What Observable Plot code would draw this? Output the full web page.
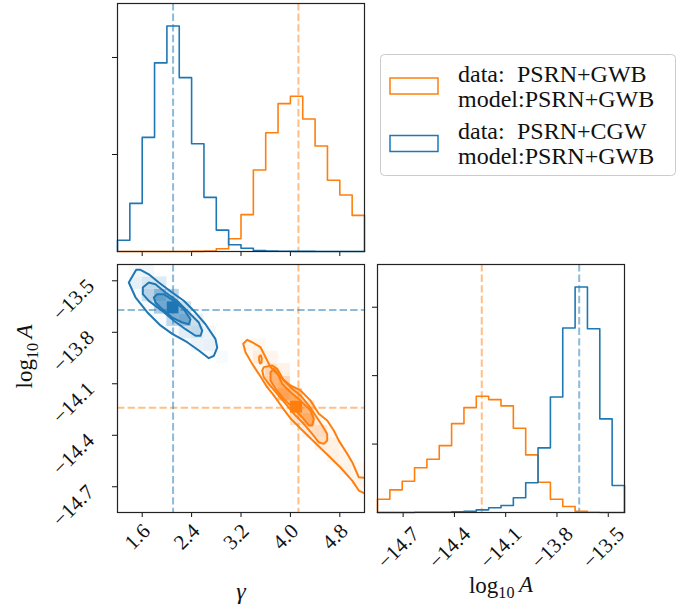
<!DOCTYPE html>
<html><head><meta charset="utf-8">
<script src="https://cdn.jsdelivr.net/npm/d3@7"></script>
<script src="https://cdn.jsdelivr.net/npm/@observablehq/plot@0.6"></script>
<style>
body{margin:0;background:#fff;}
#fig{position:relative;width:699px;height:614px;}
#fig svg{position:absolute;left:0;top:0;}
</style></head><body><div id="fig"></div>
<script>
// ---------------- data ----------------
const seriesNames = ["data: PSRN+GWB / model:PSRN+GWB", "data: PSRN+CGW / model:PSRN+GWB"];
const seriesColors = ["#ff7f0e", "#1f77b4"];
const legendData = ["PSRN+GWB", "PSRN+CGW"];
const legendModel = ["PSRN+GWB", "PSRN+GWB"];

const gammaRange = [1.2, 5.2];
const logARange = [-14.85, -13.405];
const nBins = 20;

const gammaTicks = [1.6, 2.4, 3.2, 4.0, 4.8];
const gammaTickLabels = ["1.6", "2.4", "3.2", "4.0", "4.8"];
const logATicks = [-14.7, -14.4, -14.1, -13.8, -13.5];
const logATickLabels = ["\u221214.7", "\u221214.4", "\u221214.1", "\u221213.8", "\u221213.5"];
const gammaDensityTicks = [0.5, 1.0];
const logADensityTicks = [1, 2, 3];

const truthGamma = [4.13, 2.10];
const truthLogA = [-14.24, -13.67];

// 1D marginal densities, 20 bins each
const gammaHistGWB = [0,0,0,0,0,0,0.0005,0.002,0.014,0.066,0.190,0.420,0.612,0.762,0.800,0.683,0.544,0.367,0.291,0.186];
const gammaHistCGW = [0.058,0.248,0.588,0.972,1.162,0.896,0.555,0.279,0.110,0.035,0.017,0.005,0.002,0.001,0.0005,0.0005,0.0003,0.0002,0,0];
const logAHistGWB = [0.194,0.331,0.457,0.653,0.778,0.978,1.299,1.533,1.698,1.650,1.558,1.231,0.842,0.442,0.194,0.088,0.019,0.004,0,0];
const logAHistCGW = [0,0,0,0.004,0.004,0.004,0.010,0.019,0.039,0.069,0.102,0.215,0.434,0.945,1.689,2.696,3.295,2.686,1.368,0.394];

// 2D contours [gamma, log10A]
const gwbContourOuter = [[3.236,-13.867],[3.300,-13.844],[3.381,-13.858],[3.516,-13.887],[3.569,-13.925],[3.678,-14.003],[3.840,-14.062],[4.002,-14.110],[4.164,-14.139],[4.326,-14.198],[4.460,-14.275],[4.596,-14.314],[4.703,-14.372],[4.784,-14.431],[4.920,-14.508],[5.001,-14.557],[5.108,-14.645],[5.232,-14.648],[5.232,-14.745],[5.108,-14.722],[5.001,-14.664],[4.811,-14.588],[4.596,-14.512],[4.379,-14.436],[4.164,-14.361],[4.002,-14.302],[3.867,-14.237],[3.731,-14.168],[3.624,-14.120],[3.488,-14.042],[3.381,-13.984],[3.273,-13.916]];
const gwbContourIsland = [[3.495,-13.940],[3.521,-13.934],[3.537,-13.951],[3.532,-13.977],[3.508,-13.982],[3.493,-13.963]];
const gwbContourMiddle = [[3.543,-14.023],[3.569,-14.003],[3.705,-13.994],[3.786,-14.013],[3.893,-14.081],[4.029,-14.129],[4.164,-14.168],[4.298,-14.227],[4.407,-14.285],[4.515,-14.343],[4.596,-14.392],[4.596,-14.431],[4.541,-14.450],[4.460,-14.441],[4.353,-14.392],[4.217,-14.333],[4.083,-14.285],[3.948,-14.227],[3.786,-14.159],[3.650,-14.100],[3.569,-14.062]];
const gwbContourInner = [[3.678,-14.033],[3.731,-14.013],[3.786,-14.033],[3.867,-14.100],[4.002,-14.149],[4.164,-14.198],[4.326,-14.256],[4.379,-14.304],[4.353,-14.343],[4.298,-14.343],[4.191,-14.295],[4.055,-14.246],[3.893,-14.188],[3.759,-14.129],[3.678,-14.081]];

const cgwContourOuter = [[1.383,-13.510],[1.503,-13.436],[1.572,-13.436],[1.707,-13.462],[1.869,-13.510],[2.086,-13.568],[2.274,-13.616],[2.463,-13.685],[2.625,-13.753],[2.787,-13.840],[2.815,-13.889],[2.760,-13.937],[2.679,-13.951],[2.517,-13.906],[2.329,-13.858],[2.086,-13.809],[1.896,-13.760],[1.681,-13.683],[1.491,-13.596]];
const cgwContourMiddle = [[1.610,-13.539],[1.707,-13.510],[1.815,-13.520],[1.977,-13.568],[2.167,-13.617],[2.355,-13.685],[2.517,-13.743],[2.572,-13.791],[2.544,-13.820],[2.463,-13.820],[2.301,-13.782],[2.112,-13.733],[1.924,-13.675],[1.707,-13.617],[1.610,-13.578]];
const cgwContourInner = [[1.788,-13.597],[1.843,-13.578],[1.950,-13.578],[2.112,-13.617],[2.274,-13.665],[2.382,-13.724],[2.355,-13.753],[2.248,-13.743],[2.086,-13.714],[1.924,-13.665],[1.815,-13.626]];

// 2D histogram cells: [gamma bin, log10A bin, relative density]
const gwbCells = [[14,8,1.0],[13,9,0.45],[14,9,0.35],[13,10,0.3],[12,10,0.2],[12,11,0.2],[15,7,0.35],[15,8,0.2],[14,7,0.2],[16,6,0.15],[16,5,0.1],[17,5,0.08],[17,4,0.08],[18,3,0.06],[18,4,0.05],[19,2,0.05],[19,3,0.04],[11,12,0.12],[11,13,0.06],[12,12,0.08],[10,13,0.04],[13,11,0.1],[15,6,0.1]];
const cgwCells = [[4,16,1.0],[3,17,0.45],[3,16,0.35],[4,17,0.3],[5,15,0.35],[4,15,0.25],[2,17,0.2],[2,18,0.15],[1,18,0.08],[5,16,0.2],[6,14,0.15],[6,15,0.1],[7,13,0.07],[7,14,0.05],[3,18,0.15],[5,14,0.1],[6,13,0.06],[8,12,0.03],[1,19,0.04],[2,19,0.05]];

// ---------------- helpers ----------------
const series = [
  {color: seriesColors[0], gHist: gammaHistGWB, aHist: logAHistGWB, contours: [gwbContourOuter, gwbContourMiddle, gwbContourInner], island: gwbContourIsland, cells: gwbCells, tg: truthGamma[0], ta: truthLogA[0]},
  {color: seriesColors[1], gHist: gammaHistCGW, aHist: logAHistCGW, contours: [cgwContourOuter, cgwContourMiddle, cgwContourInner], island: null, cells: cgwCells, tg: truthGamma[1], ta: truthLogA[1]}
];
function stepPoints(values, range) {
  const w = (range[1] - range[0]) / values.length;
  const pts = [[range[0], 0]];
  values.forEach((v, i) => pts.push([range[0] + i * w, v]));
  pts.push([range[1], values[values.length - 1]]);
  pts.push([range[1], 0]);
  return pts;
}
const gw = (gammaRange[1] - gammaRange[0]) / nBins;
const aw = (logARange[1] - logARange[0]) / nBins;
const W = 699, H = 614;
const FONT = "'Liberation Serif', 'DejaVu Serif', serif";
const TICKFS = 21;
const common = {width: W, height: H, style: {background: "none", fontFamily: FONT, fontSize: "19px", color: "#111", overflow: "visible"}};
const dash = {strokeOpacity: 0.5, strokeWidth: 2, strokeDasharray: "7.4,3.2"};
const frame = Plot.frame({stroke: "#222", strokeWidth: 1.2});
const fillOps = [0.03, 0.12, 0.35];

// ---------------- panel: gamma histogram ----------------
const pTop = Plot.plot({
  ...common,
  marginLeft: 117, marginRight: 335, marginTop: 3, marginBottom: 363,
  x: {domain: gammaRange, ticks: gammaTicks, tickFormat: () => "", tickSize: 5, label: null},
  y: {domain: [0, 1.1 * d3.max([...gammaHistGWB, ...gammaHistCGW])], ticks: gammaDensityTicks, tickFormat: () => "", tickSize: 5, label: null},
  marks: [
    ...series.map(s => Plot.ruleX([s.tg], {x: d => d, stroke: s.color, ...dash})),
    ...series.map(s => Plot.line(stepPoints(s.gHist, gammaRange), {x: d => d[0], y: d => d[1], curve: "step-after", stroke: s.color, strokeWidth: 1.6})),
    frame
  ]
});

// ---------------- panel: 2D ----------------
const marks2d = [];
series.forEach(s => {
  marks2d.push(Plot.rect(s.cells, {
    x1: d => gammaRange[0] + d[0] * gw, x2: d => gammaRange[0] + (d[0] + 1) * gw,
    y1: d => logARange[0] + d[1] * aw, y2: d => logARange[0] + (d[1] + 1) * aw,
    fill: d => d3.interpolateRgb("#ffffff", s.color)(d[2]), inset: 0
  }));
});
series.forEach(s => {
  s.contours.forEach((c, ci) => marks2d.push(Plot.line(c, {x: d => d[0], y: d => d[1], curve: "linear-closed", fill: s.color, fillOpacity: fillOps[ci], stroke: "none", clip: true})));
});
series.forEach(s => {
  marks2d.push(Plot.ruleX([s.tg], {x: d => d, stroke: s.color, ...dash}));
  marks2d.push(Plot.ruleY([s.ta], {y: d => d, stroke: s.color, ...dash}));
});
series.forEach(s => {
  s.contours.forEach(c => marks2d.push(Plot.line(c, {x: d => d[0], y: d => d[1], curve: "linear-closed", stroke: s.color, strokeWidth: 2, clip: true})));
  if (s.island) marks2d.push(Plot.line(s.island, {x: d => d[0], y: d => d[1], curve: "linear-closed", stroke: s.color, strokeWidth: 2}));
});
marks2d.push(frame);
marks2d.push(Plot.text(gammaTicks, {x: d => d, text: (d, i) => gammaTickLabels[i], frameAnchor: "bottom", rotate: -45, dy: 29, textAnchor: "middle", fontSize: TICKFS, fill: "#111"}));
marks2d.push(Plot.text(logATicks, {y: d => d, text: (d, i) => logATickLabels[i], frameAnchor: "left", rotate: -45, dx: -44, dy: 19, textAnchor: "middle", fontSize: TICKFS, fill: "#111"}));
marks2d.push(Plot.text(["\u03b3"], {frameAnchor: "bottom", dy: 86, text: d => d, fontSize: 24, fontStyle: "italic", fill: "#111"}));
marks2d.push(Plot.text(["LOGA_LABEL"], {frameAnchor: "left", dx: -93, rotate: -90, text: d => d, fontSize: 23, fill: "#111"}));

const pMid = Plot.plot({
  ...common,
  marginLeft: 117, marginRight: 335, marginTop: 264, marginBottom: 102,
  color: {type: "identity"},
  x: {domain: gammaRange, ticks: gammaTicks, tickFormat: () => "", tickSize: 5, label: null},
  y: {domain: logARange, ticks: logATicks, tickFormat: () => "", tickSize: 5, label: null},
  marks: marks2d
});

// ---------------- panel: log10A histogram ----------------
const pRight = Plot.plot({
  ...common,
  marginLeft: 377, marginRight: 75, marginTop: 264, marginBottom: 102,
  x: {domain: logARange, ticks: logATicks, tickFormat: () => "", tickSize: 5, label: null},
  y: {domain: [0, 1.1 * d3.max([...logAHistGWB, ...logAHistCGW])], ticks: logADensityTicks, tickFormat: () => "", tickSize: 5, label: null},
  marks: [
    ...series.map(s => Plot.ruleX([s.ta], {x: d => d, stroke: s.color, ...dash})),
    ...series.map(s => Plot.line(stepPoints(s.aHist, logARange), {x: d => d[0], y: d => d[1], curve: "step-after", stroke: s.color, strokeWidth: 1.6})),
    frame,
    Plot.text(logATicks, {x: d => d, text: (d, i) => logATickLabels[i], frameAnchor: "bottom", rotate: -45, dy: 40, textAnchor: "middle", fontSize: TICKFS, fill: "#111"}),
    Plot.text(["LOGA_LABEL"], {frameAnchor: "bottom", dy: 80, text: d => d, fontSize: 23, fill: "#111"})
  ]
});

const fig = document.getElementById("fig");
[pTop, pMid, pRight].forEach(p => fig.appendChild(p));

// mixed-style label: log_10 A
d3.select(fig).selectAll("text").filter(function () { return this.textContent === "LOGA_LABEL"; }).each(function () {
  const t = d3.select(this);
  t.text(null);
  t.append("tspan").text("log");
  t.append("tspan").style("font-size", "0.7em").attr("dy", "0.35em").text("10");
  t.append("tspan").attr("dy", "-0.25em").style("font-style", "italic").text("\u2009A");
});

// ---------------- legend ----------------
const leg = d3.create("svg").attr("width", W).attr("height", H).style("font-family", FONT).style("overflow", "visible");
leg.append("rect").attr("x", 380.5).attr("y", 54.5).attr("width", 295).attr("height", 121).attr("rx", 4)
  .attr("fill", "#fff").attr("fill-opacity", 0.8).attr("stroke", "#cccccc").attr("stroke-width", 1);
const rowY = [73.5, 131];
series.forEach((s, i) => {
  leg.append("rect").attr("x", 390).attr("y", rowY[i] + 4.5).attr("width", 48).attr("height", 16)
    .attr("fill", "none").attr("stroke", s.color).attr("stroke-width", 1.5);
  const t1 = leg.append("text").attr("x", 458).attr("y", rowY[i]).attr("dy", "0.35em").attr("font-size", 24).attr("fill", "#111");
  t1.append("tspan").text("data:");
  t1.append("tspan").attr("x", 517).text(legendData[i]);
  leg.append("text").attr("x", 458).attr("y", rowY[i] + 25).attr("dy", "0.35em").attr("font-size", 24).attr("fill", "#111").text("model:" + legendModel[i]);
});
fig.appendChild(leg.node());
</script></body></html>
